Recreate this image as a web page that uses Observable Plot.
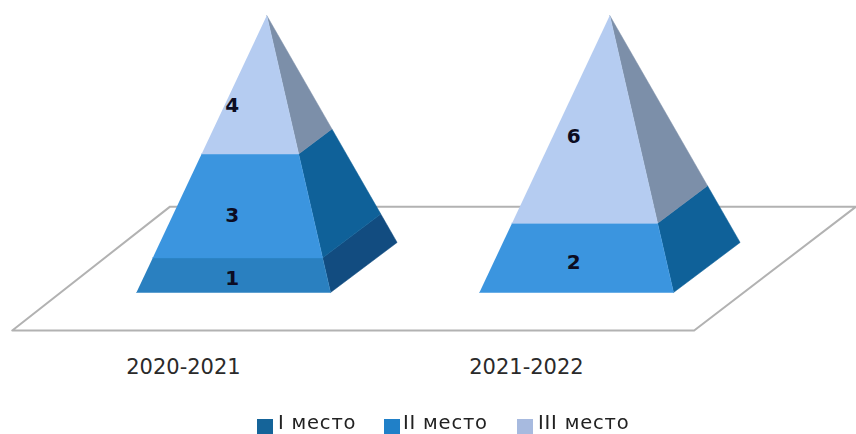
<!DOCTYPE html>
<html><head><meta charset="utf-8">
<script src="https://cdn.jsdelivr.net/npm/d3@7"></script>
<script src="https://cdn.jsdelivr.net/npm/@observablehq/plot@0.6"></script>
<style>
html,body{margin:0;padding:0;background:#fff;overflow:hidden}
#wrap{width:856px;height:434px;overflow:hidden;position:relative;font-family:"DejaVu Sans",sans-serif;filter:blur(.45px)}
#wrap svg{display:block}
#legend{position:relative;height:34px;color:#222;font-size:19.5px;line-height:23px;letter-spacing:.8px}
#legend span{position:absolute;white-space:nowrap}
#legend i{position:absolute;top:19px;width:16px;height:15px}
</style></head><body>
<div id="wrap"><div id="chart"></div><div id="legend"></div></div>
<script>
const seasons = ["2020-2021", "2021-2022"];
const places = ["I место", "II место", "III место"];
const place1 = [1, 0];
const place2 = [3, 2];
const place3 = [4, 6];
const series = [place1, place2, place3];
const frontColors = ["#2a80c0", "#3b95df", "#b5ccf1"];
const sideColors = ["#124c80", "#0f6199", "#7c8fa9"];
const legendColors = ["#156499", "#2080c8", "#a7badf"];

// layout of the oblique projection, in scale units (category = 1, value = 1)
const halfWidth = 0.283, depthX = 0.194, depthY = 1.445;
const floorFront = -1.097, floorBack = 2.48;

const pxPerCat = 343, pxPerVal = 34.625, x0 = 233, y0 = 292, W = 856, H = 400;
const lerp = (a, b, t) => a + (b - a) * t;

const polys = [], labels = [];
seasons.forEach((s, i) => {
  const total = d3.sum(series, v => v[i]);
  const apex = {x: i + depthX / 2, y: total};
  const corner = {
    fl: {x: i - halfWidth, y: 0},
    fr: {x: i + halfWidth, y: 0},
    br: {x: i + halfWidth + depthX, y: depthY}
  };
  const at = (c, t) => ({x: lerp(c.x, apex.x, t), y: lerp(c.y, apex.y, t)});
  let cum = 0;
  series.forEach((v, k) => {
    if (!v[i]) return;
    const t0 = cum / total, t1 = (cum + v[i]) / total;
    const mid = cum + v[i] / 2;
    polys.push({id: `s${i}${k}`, layer: 0, color: sideColors[k],
      pts: [at(corner.fr, t0), at(corner.br, t0), at(corner.br, t1), at(corner.fr, t1)]});
    polys.push({id: `f${i}${k}`, layer: 1, color: frontColors[k],
      pts: [at(corner.fl, t0), at(corner.fr, t0), at(corner.fr, t1), at(corner.fl, t1)]});
    labels.push({x: i - 0.004 * (1 + i), y: mid * 0.91 - 0.06, v: v[i]});
    cum += v[i];
  });
});
const rows = d3.sort(polys, d => d.layer).flatMap(p => p.pts.map(q => ({...q, id: p.id, color: p.color})));
const floor = [
  {x: -0.645, y: floorFront}, {x: 1.343, y: floorFront},
  {x: 1.815, y: floorBack}, {x: -0.185, y: floorBack}, {x: -0.645, y: floorFront}
];

const plot = Plot.plot({
  width: W, height: H, margin: 0,
  style: {background: "#fff", fontFamily: '"DejaVu Sans",sans-serif'},
  x: {axis: null, domain: [-x0 / pxPerCat, (W - x0) / pxPerCat], range: [0, W]},
  y: {axis: null, domain: [(y0 - H) / pxPerVal, y0 / pxPerVal], range: [H, 0]},
  color: {type: "identity"},
  marks: [
    Plot.line(floor, {x: "x", y: "y", stroke: "#b2b2b2", strokeWidth: 2, fill: "white", clip: true}),
    Plot.line(rows, {x: "x", y: "y", z: "id", fill: "color", stroke: "color", strokeWidth: 0.5, strokeLinejoin: "miter"}),
    Plot.text(labels, {x: "x", y: "y", text: "v", fontWeight: "bold", fontSize: 20, fill: "#0c0c22"}),
    Plot.text(seasons, {x: (d, i) => i - 0.146, y: () => floorFront - 1.07, text: d => d, fontSize: 21, fill: "#2a2a2a"})
  ]
});
document.getElementById("chart").append(plot);

const legend = document.getElementById("legend");
const swatchX = [257, 384, 517], textX = [278, 403, 538];
places.forEach((p, k) => {
  const sw = document.createElement("i");
  sw.style.left = swatchX[k] + "px";
  sw.style.background = legendColors[k];
  legend.append(sw);
  const t = document.createElement("span");
  t.style.left = textX[k] + "px";
  t.style.top = "11px";
  t.textContent = p;
  legend.append(t);
});
</script>
</body></html>
